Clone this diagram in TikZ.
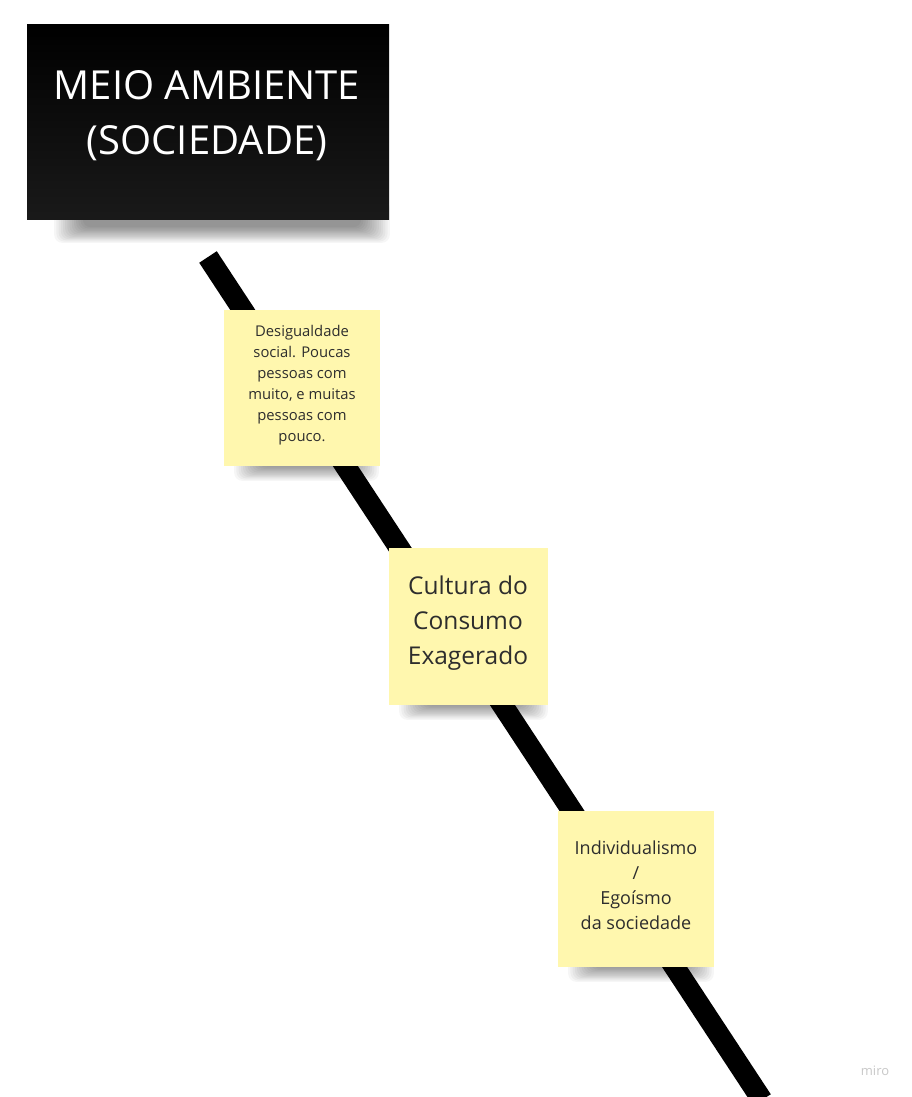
\documentclass[tikz,border=0pt]{standalone}
\usepackage{fontspec}
\setmainfont{Open Sans}
\definecolor{noteyellow}{RGB}{255,247,174}
\definecolor{notetext}{RGB}{45,45,45}
\definecolor{mirogray}{RGB}{200,200,200}
\newcommand\softshadow[4]{%
  \foreach \i in {1,...,14}{%
    \fill[black, opacity=0.035, rounded corners=8pt]
      ({#1+\i*2.2},#2) rectangle ({#3-\i*2.2},{#4-\i*1.2});
  }}
\begin{document}
\begin{tikzpicture}[x=1pt,y=-1pt,
  note/.style={fill=noteyellow, minimum width=156pt, minimum height=156pt,
    inner sep=0pt},
  notelabel/.style={align=center, text=notetext, inner sep=0pt},
  titlebox/.style={top color=black, bottom color=black!90, text=white,
    minimum width=362pt, minimum height=194pt, inner sep=0pt}
]
\useasboundingbox (0,0) rectangle (911,1097);
\fill[white] (0,0) rectangle (911,1097);

% thick line
\coordinate (lt) at (208,257);
\coordinate (lb) at (762,1100);
\draw[line width=21pt] (lt) -- (lb);

% shadows
\softshadow{52}{200}{392}{244}
\softshadow{232}{440}{381}{482}
\softshadow{397}{680}{550}{721}
\softshadow{566}{940}{716}{983}

% title box
\node[titlebox] (title) at (208,122) {};
\node[text=white, align=center, inner sep=0pt, font=\fontsize{40}{55}\selectfont] (titletext) at (207,116)
  {MEIO AMBIENTE\\(SOCIEDADE)};

% notes
\node[note] (n1) at (302,388) {};
\node[notelabel, font=\fontsize{14.8}{21}\selectfont] (t1) at (302,385)
  {Desigualdade\\social. Poucas\\pessoas com\\muito, e muitas\\pessoas com\\pouco.};
\node[note, minimum width=159pt, minimum height=157pt] (n2) at (468.5,626.5) {};
\node[notelabel, font=\fontsize{24.5}{35}\selectfont] (t2) at (468,623)
  {Cultura do\\Consumo\\Exagerado};
\node[note] (n3) at (636,889) {};
\node[notelabel, font=\fontsize{18}{25}\selectfont] (t3) at (636,885)
  {Individualismo\\/\\Egoísmo\\da sociedade};

\node[text=mirogray, font=\fontsize{13}{15}\selectfont] (miro) at (875,1071) {miro};
\end{tikzpicture}
\end{document}
